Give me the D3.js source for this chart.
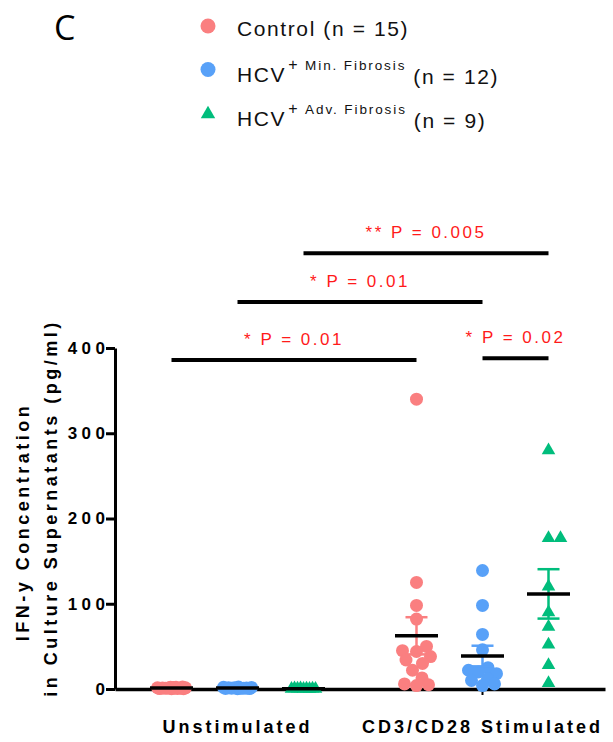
<!DOCTYPE html>
<html lang="en">
<head>
<meta charset="UTF-8">
<title>IFN-y concentration</title>
<script src="https://cdn.jsdelivr.net/npm/d3@7"></script>
<style>
  body { margin: 0; background: #fff; }
  svg { display: block; font-family: "Liberation Sans", Arial, sans-serif; }
</style>
</head>
<body>
<div id="chart-area"></div>
<script>

// ---- data ----
const conditions = ['Unstimulated', 'CD3/CD28 Stimulated'];
const groups = ['Control', 'HCV Min', 'HCV Adv'];
const groupColors = ['#fa7f80', '#58a1f8', '#00bd7c'];

const controlUnstim = [0.5, 1, 2, 1.5, 0.3, 1.2, 2.4, 0.8, 1.8, 0.6, 1.4, 2, 0.9, 1.1, 0.4];
const minUnstim = [0.6, 1.2, 2, 1.4, 0.3, 1.8, 0.9, 2.2, 1, 0.5, 1.6, 0.8];
const advUnstim = [0.2, 0.5, 0.3, 0.8, 0.1, 0.6, 0.4, 0.7, 0.2];

const controlStim = [340, 125, 98, 82, 50, 45, 44, 38, 34, 30, 22, 13, 6, 5, 4];
const minStim = [139, 98, 64, 46, 25, 22, 20, 18, 12, 10, 6, 4];
const advStim = [280, 177, 177, 120, 90, 73, 52, 28, 7];

const yTicks = [0, 100, 200, 300, 400];

// legend
const legendNames = ['Control', 'HCV', 'HCV'];
const legendSups = ['', 'Min. Fibrosis', 'Adv. Fibrosis'];

// significance bars: [condition, group] start / end, level in pg/ml
const sigLabels = ['** P = 0.005', '* P = 0.01', '* P = 0.01', '* P = 0.02'];
const sigStart = [[0, 2], [0, 1], [0, 0], [1, 1]];
const sigEnd = [[1, 2], [1, 1], [1, 0], [1, 2]];
const sigLevel = [511, 454, 386, 388];

const cellValues = [
    [controlUnstim, minUnstim, advUnstim],
    [controlStim, minStim, advStim],
];

// ---- layout ----
const W = 613, H = 742;
const plotLeft = 115, plotRight = 605, plotTop = 348, plotBottom = 689;
const fontFam = '"Liberation Sans", Arial, sans-serif';

const svg = d3.select('#chart-area')
    .append('svg')
    .attr('width', W)
    .attr('height', H);

const y = d3.scaleLinear()
    .domain([0, 400])
    .range([plotBottom, plotTop]);

const xOuter = d3.scaleBand()
    .domain(conditions)
    .range([plotLeft, plotRight]);

const xInner = d3.scaleBand()
    .domain(groups)
    .range([0, xOuter.bandwidth()])
    .paddingInner(0)
    .paddingOuter(0.356);

const cx = (ci, gi) => xOuter(conditions[ci]) + xInner(groups[gi]) + xInner.bandwidth() / 2;

// ---- axes ----
const tickLs = 4.5;
const yAxis = svg.append('g')
    .attr('transform', `translate(${plotLeft},0)`)
    .call(d3.axisLeft(y).tickValues(yTicks).tickSize(9).tickSizeOuter(0).tickPadding(0))
    .attr('font-family', fontFam);
yAxis.select('.domain').attr('stroke-width', 3);
yAxis.selectAll('.tick line').attr('stroke-width', 3);
yAxis.selectAll('.tick text')
    .attr('font-size', 17)
    .attr('font-weight', 'bold')
    .attr('letter-spacing', tickLs)
    .attr('dx', tickLs - 1)
    .attr('fill', '#000');

const xAxis = svg.append('g')
    .attr('transform', `translate(0,${plotBottom})`)
    .call(d3.axisBottom(xOuter).tickSize(6).tickSizeOuter(0).tickPadding(25))
    .attr('font-family', fontFam);
xAxis.select('.domain').attr('stroke-width', 3.5);
xAxis.selectAll('.tick line').attr('stroke-width', 2);
xAxis.selectAll('.tick text')
    .attr('font-size', 18)
    .attr('font-weight', 'bold')
    .attr('letter-spacing', 3)
    .attr('fill', '#000');

// y title
const yTitle = [['IFN-y Concentration', 29, 522], ['in Culture Supernatants (pg/ml)', 57, 508]];
svg.selectAll('.y-title')
    .data(yTitle)
    .enter().append('text')
    .attr('class', 'y-title')
    .attr('transform', d => `translate(${d[1]},${d[2]}) rotate(-90)`)
    .attr('text-anchor', 'middle')
    .attr('font-size', 18)
    .attr('font-weight', 'bold')
    .attr('letter-spacing', 3.5)
    .text(d => d[0]);

// ---- points ----
function swarmOffsets(vals, minDist, maxHalf) {
    const order = d3.range(vals.length).sort((a, b) => vals[a] - vals[b]);
    const placed = [];
    const off = new Array(vals.length);
    const cands = [0];
    for (let d = 0.5; d <= maxHalf; d += 0.5) cands.push(d, -d);
    order.forEach(i => {
        const py = y(vals[i]);
        let best = null, fallback = 0, bestScore = -Infinity;
        for (const dx of cands) {
            const clear = d3.min(placed, p => Math.hypot(p.dx - dx, p.py - py));
            if (clear === undefined || clear >= minDist) { best = dx; break; }
            if (clear > bestScore) { bestScore = clear; fallback = dx; }
        }
        off[i] = best === null ? fallback : best;
        placed.push({ dx: off[i], py });
    });
    return off;
}

const tri = d3.symbol(d3.symbolTriangle, 80);
const plot = svg.append('g');

cellValues.forEach((row, ci) => {
    row.forEach((vals, gi) => {
        const offs = swarmOffsets(vals, 12, 14);
        const x0 = cx(ci, gi);
        const col = groupColors[gi];
        const pts = vals.map((v, i) => ({ v, dx: offs[i] }));
        if (gi < 2) {
            plot.selectAll(null)
                .data(pts)
                .enter().append('circle')
                .attr('cx', d => x0 + d.dx)
                .attr('cy', d => y(d.v))
                .attr('r', 6.5)
                .attr('fill', col);
        } else {
            plot.selectAll(null)
                .data(pts)
                .enter().append('path')
                .attr('d', tri)
                .attr('transform', d => `translate(${x0 + d.dx},${y(d.v)})`)
                .attr('fill', col);
        }
    });
});

// ---- mean +/- SEM ----
const stats = svg.append('g');
cellValues.forEach((row, ci) => {
    row.forEach((vals, gi) => {
        const m = d3.mean(vals);
        const sem = d3.deviation(vals) / Math.sqrt(vals.length);
        const x0 = cx(ci, gi);
        const col = groupColors[gi];
        const eb = stats.append('g')
            .attr('stroke', col)
            .attr('stroke-width', 2.5);
        eb.append('line')
            .attr('x1', x0).attr('x2', x0)
            .attr('y1', y(m - sem)).attr('y2', y(m + sem));
        [m - sem, m + sem].forEach(v => {
            eb.append('line')
                .attr('x1', x0 - 11).attr('x2', x0 + 11)
                .attr('y1', y(v)).attr('y2', y(v));
        });
        stats.append('line')
            .attr('x1', x0 - 21.5).attr('x2', x0 + 21.5)
            .attr('y1', y(m)).attr('y2', y(m))
            .attr('stroke', '#000')
            .attr('stroke-width', 3.5);
    });
});

// ---- significance bars ----
const sig = svg.append('g');
sigLabels.forEach((lab, i) => {
    const x1 = cx(sigStart[i][0], sigStart[i][1]);
    const x2 = cx(sigEnd[i][0], sigEnd[i][1]);
    const yy = y(sigLevel[i]);
    sig.append('line')
        .attr('x1', x1).attr('x2', x2)
        .attr('y1', yy).attr('y2', yy)
        .attr('stroke', '#000')
        .attr('stroke-width', 4);
    sig.append('text')
        .attr('x', (x1 + x2) / 2)
        .attr('y', yy - 15)
        .attr('text-anchor', 'middle')
        .attr('font-size', 17)
        .attr('letter-spacing', 2.5)
        .attr('fill', '#ff1a1a')
        .text(lab);
});

// ---- panel letter ----
svg.append('text')
    .attr('x', 54)
    .attr('y', 40)
    .attr('font-size', 34)
    .attr('font-family', '"Open Sans", sans-serif')
    .text('C');

// ---- legend ----
const legendY = [36, 82, 126];
const markY = [26, 69.5, 114];
const legend = svg.append('g');
legendNames.forEach((name, i) => {
    const n = cellValues[0][i].length;
    if (i < 2) {
        legend.append('circle')
            .attr('cx', 208).attr('cy', markY[i]).attr('r', 7.5)
            .attr('fill', groupColors[i]);
    } else {
        legend.append('path')
            .attr('d', d3.symbol(d3.symbolTriangle, 90)())
            .attr('transform', `translate(208,${markY[i]})`)
            .attr('fill', groupColors[i]);
    }
    const t = legend.append('text')
        .attr('x', 237)
        .attr('y', legendY[i])
        .attr('font-size', 21)
        .attr('letter-spacing', 1.6)
        .attr('fill', '#111');
    if (!legendSups[i]) {
        t.text(`${name} (n = ${n})`);
    } else {
        t.append('tspan').text(name);
        t.append('tspan').attr('font-size', 16).attr('dx', 2).attr('dy', -12).text('+');
        t.append('tspan').attr('font-size', 13.5).attr('dx', 6).attr('letter-spacing', 1.9).text(legendSups[i]);
        t.append('tspan').attr('dx', 7).attr('dy', 14).text(`(n = ${n})`);
    }
});
</script>
</body>
</html>
